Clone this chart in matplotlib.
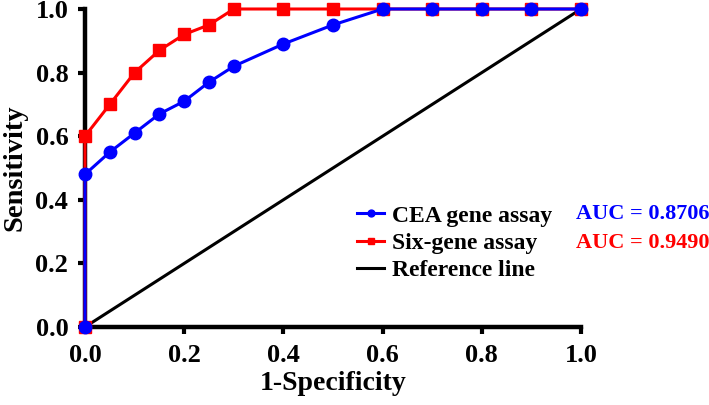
import matplotlib.pyplot as plt

plt.rcParams['font.family'] = ['Liberation Serif', 'DejaVu Serif']
plt.rcParams['font.weight'] = 'bold'

fpr_cea = [0, 0, 0.05, 0.1, 0.15, 0.2, 0.25, 0.3, 0.4, 0.5, 0.6, 0.7, 0.8, 0.9, 1.0]
tpr_cea = [0, 0.48, 0.55, 0.61, 0.67, 0.71, 0.77, 0.82, 0.89, 0.95, 1.0, 1.0, 1.0, 1.0, 1.0]
fpr_six = [0, 0, 0.05, 0.1, 0.15, 0.2, 0.25, 0.3, 0.4, 0.5, 0.6, 0.7, 0.8, 0.9, 1.0]
tpr_six = [0, 0.6, 0.7, 0.8, 0.87, 0.92, 0.95, 1.0, 1.0, 1.0, 1.0, 1.0, 1.0, 1.0, 1.0]
ref_x = [0, 1]
ref_y = [0, 1]
auc_labels = ['AUC = 0.8706', 'AUC = 0.9490']

W, H = 709, 405
fig = plt.figure(figsize=(W / 100, H / 100), dpi=100)
# axes box: x 0 -> 85px, 1 -> 581px ; y 0 -> 327px, 1 -> 9px
ax = fig.add_axes([85 / W, 1 - 327 / H, (581 - 85) / W, (327 - 9) / H])

ax.plot(ref_x, ref_y, color='black', lw=2.2, label='Reference line', zorder=2)
ax.plot(fpr_six, tpr_six, color='red', lw=2.2, marker='s', markersize=8.5,
        label='Six-gene assay', clip_on=False, zorder=3)
ax.plot(fpr_cea, tpr_cea, color='blue', lw=2.2, marker='o', markersize=9,
        label='CEA gene assay', clip_on=False, zorder=4)

ax.set_xlim(0, 1)
ax.set_ylim(0, 1)
ticks = [0, 0.2, 0.4, 0.6, 0.8, 1.0]
ax.set_xticks(ticks)
ax.set_yticks(ticks)
ax.set_xticklabels(['%.1f' % t for t in ticks])
ax.set_yticklabels(['%.1f' % t for t in ticks])
ax.tick_params(labelsize=19, width=3, length=5, direction='out')
ax.tick_params(axis='x', pad=7)
ax.tick_params(axis='y', pad=7)
for s in ['top', 'right']:
    ax.spines[s].set_visible(False)
for s in ['left', 'bottom']:
    ax.spines[s].set_linewidth(3.2)

ax.set_xlabel('1-Specificity', fontsize=20, fontweight='bold', labelpad=3)
ax.set_ylabel('Sensitivity', fontsize=20.5, fontweight='bold', labelpad=6)

h, l = ax.get_legend_handles_labels()
order = [2, 1, 0]
leg = ax.legend([h[i] for i in order], [l[i] for i in order], loc='center left',
                bbox_to_anchor=(357 / W, 1 - 243 / H), bbox_transform=fig.transFigure,
                frameon=False, fontsize=17, handlelength=1.15, labelspacing=0.24,
                handletextpad=0.35, borderpad=0, borderaxespad=0, markerscale=0.55)

for i, (txt, col) in enumerate(zip(auc_labels, ['blue', 'red'])):
    fig.text(576 / W, 1 - (214 + 29 * i) / H, txt, color=col, fontsize=16,
             fontweight='bold', va='center')

plt.savefig('out.png')
